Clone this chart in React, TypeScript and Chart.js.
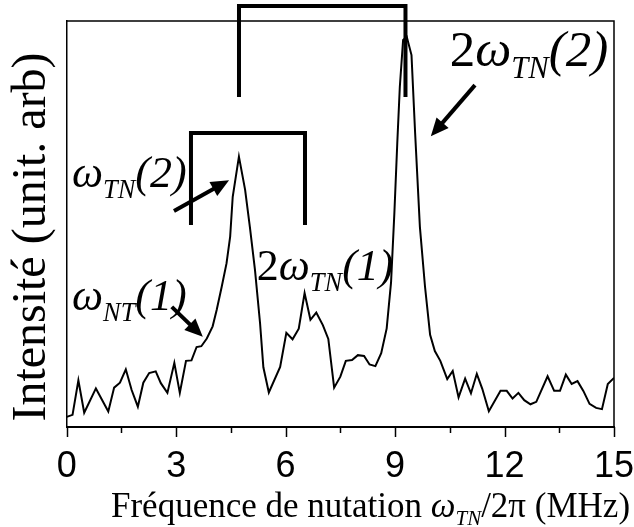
import React, { useEffect, useRef } from 'react';
import { Chart, registerables } from 'chart.js';

Chart.register(...registerables);

// Nutation frequency (MHz) and intensity (arb. units, 0-100 = axis height)
const freqMHz = [
  0.0, 0.16, 0.32, 0.48, 0.8, 1.14, 1.3, 1.46, 1.62, 1.78,
  1.95, 2.1, 2.26, 2.44, 2.58, 2.76, 2.95, 3.1, 3.27, 3.42,
  3.56, 3.69, 3.84, 4.0, 4.11, 4.25, 4.38, 4.48, 4.55, 4.72,
  4.89, 5.02, 5.16, 5.3, 5.39, 5.54, 5.85, 6.02, 6.19, 6.36,
  6.52, 6.68, 6.84, 7.02, 7.17, 7.33, 7.5, 7.65, 7.82, 7.98,
  8.15, 8.3, 8.46, 8.62, 8.77, 8.89, 8.98, 9.06, 9.13, 9.22,
  9.32, 9.45, 9.55, 9.68, 9.82, 9.96, 10.09, 10.24, 10.43, 10.58,
  10.74, 10.92, 11.08, 11.24, 11.39, 11.57, 11.89, 12.06, 12.22, 12.38,
  12.54, 12.71, 12.87, 13.18, 13.36, 13.52, 13.68, 13.84, 14.0, 14.16,
  14.33, 14.51, 14.67, 14.83, 15.0,
];
const intensity = [
  2.5, 3.0, 11.5, 3.5, 9.5, 3.8, 9.7, 10.9, 14.2, 9.1,
  5.0, 10.9, 13.3, 13.7, 10.8, 8.4, 15.8, 8.4, 16.3, 16.4,
  19.7, 19.9, 21.8, 24.8, 28.8, 34.6, 40.3, 46.9, 56.7, 66.6,
  58.4, 49.3, 38.7, 25.5, 14.7, 8.5, 14.8, 23.2, 21.6, 24.2,
  33.0, 26.4, 28.2, 25.1, 21.7, 9.7, 12.4, 16.3, 16.5, 17.7,
  17.5, 15.4, 15.0, 18.2, 24.3, 35.7, 52.6, 69.9, 83.8, 95.3,
  96.1, 91.6, 72.3, 49.3, 34.6, 22.7, 18.7, 16.3, 11.8, 13.8,
  7.3, 11.9, 8.3, 13.1, 9.4, 3.9, 8.9, 8.9, 7.0, 8.4,
  6.6, 5.6, 6.2, 12.5, 8.9, 8.9, 12.9, 10.6, 11.3, 8.9,
  5.7, 4.7, 4.4, 10.6, 12.1,
];
const xMajorTicks = [0, 3, 6, 9, 12, 15];
const xMinorTicks = [1.5, 4.5, 7.5, 10.5, 13.5];

const yTitle = 'Intensité (unit. arb)';
const xTitleParts = [
  { t: 'Fréquence de nutation ', i: false, sub: false },
  { t: 'ω', i: true, sub: false },
  { t: 'TN', i: true, sub: true },
  { t: '/2π (MHz)', i: false, sub: false },
];

// Annotations, in data coordinates
const brackets = [
  { x0: 3.406, x1: 6.531, yTop: 72.4, yEnd: 49.75 },
  { x0: 4.722, x1: 9.285, yTop: 103.7, yEnd: 81.3 },
];
const arrows = [
  { x0: 2.94, y0: 53.2, x1: 4.45, y1: 60.8 },
  { x0: 2.88, y0: 29.6, x1: 3.73, y1: 22.2 },
  { x0: 11.19, y0: 84.2, x1: 9.98, y1: 71.6 },
];
const peakLabels = [
  { x: 10.5, y: 89.0, size: 51, parts: [{ t: '2', i: false, sub: false }, { t: 'ω', i: true, sub: false }, { t: 'TN', i: true, sub: true }, { t: '(2)', i: true, sub: false }] },
  { x: 0.145, y: 59.1, size: 44, parts: [{ t: 'ω', i: true, sub: false }, { t: 'TN', i: true, sub: true }, { t: '(2)', i: true, sub: false }] },
  { x: 0.145, y: 28.8, size: 44, parts: [{ t: 'ω', i: true, sub: false }, { t: 'NT', i: true, sub: true }, { t: '(1)', i: true, sub: false }] },
  { x: 5.21, y: 36.2, size: 44, parts: [{ t: '2', i: false, sub: false }, { t: 'ω', i: true, sub: false }, { t: 'TN', i: true, sub: true }, { t: '(1)', i: true, sub: false }] },
];

const SERIF = '"Liberation Serif", "Times New Roman", serif';

function drawRich(ctx: CanvasRenderingContext2D, x: number, y: number, parts: any[], size: number, subSize: number, subDy: number) {
  let cx = x;
  ctx.textAlign = 'left';
  ctx.textBaseline = 'alphabetic';
  for (const p of parts) {
    const sz = p.sub ? subSize : size;
    ctx.font = `${p.i ? 'italic ' : ''}${sz}px ${SERIF}`;
    ctx.fillText(p.t, cx, y + (p.sub ? subDy : 0));
    cx += ctx.measureText(p.t).width;
  }
}

const decorPlugin = {
  id: 'decor',
  afterDraw(chart: any) {
    const { ctx, chartArea: ca } = chart;
    const xs = chart.scales.x;
    const ys = chart.scales.y;
    const X = (v: number) => xs.getPixelForValue(v);
    const Y = (v: number) => ys.getPixelForValue(v);
    ctx.save();
    ctx.strokeStyle = '#000';
    ctx.fillStyle = '#000';

    // top & right frame
    ctx.lineWidth = 1.5;
    ctx.beginPath();
    ctx.moveTo(ca.left, ca.top);
    ctx.lineTo(ca.right, ca.top);
    ctx.lineTo(ca.right, ca.bottom);
    ctx.stroke();

    // tick marks
    ctx.lineWidth = 1.5;
    for (const v of xMajorTicks) {
      const px = Math.round(X(v)) + 0.5;
      ctx.beginPath();
      ctx.moveTo(px, ca.bottom);
      ctx.lineTo(px, ca.bottom + 10);
      ctx.stroke();
    }
    for (const v of xMinorTicks) {
      const px = Math.round(X(v)) + 0.5;
      ctx.beginPath();
      ctx.moveTo(px, ca.bottom);
      ctx.lineTo(px, ca.bottom + 6);
      ctx.stroke();
    }

    // brackets
    ctx.lineWidth = 4;
    ctx.lineJoin = 'miter';
    ctx.lineCap = 'butt';
    for (const b of brackets) {
      ctx.beginPath();
      ctx.moveTo(X(b.x0), Y(b.yEnd));
      ctx.lineTo(X(b.x0), Y(b.yTop));
      ctx.lineTo(X(b.x1), Y(b.yTop));
      ctx.lineTo(X(b.x1), Y(b.yEnd));
      ctx.stroke();
    }

    // arrows
    for (const a of arrows) {
      const x0 = X(a.x0), y0 = Y(a.y0), x1 = X(a.x1), y1 = Y(a.y1);
      const dx = x1 - x0, dy = y1 - y0;
      const len = Math.hypot(dx, dy);
      const ux = dx / len, uy = dy / len;
      const head = 18, half = 8;
      ctx.lineWidth = 4;
      ctx.beginPath();
      ctx.moveTo(x0, y0);
      ctx.lineTo(x1 - ux * head * 0.8, y1 - uy * head * 0.8);
      ctx.stroke();
      ctx.beginPath();
      ctx.moveTo(x1, y1);
      ctx.lineTo(x1 - ux * head - uy * half, y1 - uy * head + ux * half);
      ctx.lineTo(x1 - ux * head + uy * half, y1 - uy * head - ux * half);
      ctx.closePath();
      ctx.fill();
    }

    // peak labels
    for (const l of peakLabels) {
      drawRich(ctx, X(l.x), Y(l.y), l.parts, l.size, l.size * 0.6, l.size * 0.25);
    }

    // y title
    ctx.save();
    ctx.translate(45, 237);
    ctx.rotate(-Math.PI / 2);
    ctx.font = `48px ${SERIF}`;
    ctx.textAlign = 'center';
    ctx.textBaseline = 'alphabetic';
    ctx.fillText(yTitle, 0, 0);
    ctx.restore();

    // x title
    drawRich(ctx, 111, 517, xTitleParts, 35, 21, 8);

    ctx.restore();
  },
};

export default function App() {
  const ref = useRef<HTMLCanvasElement>(null);
  useEffect(() => {
    document.body.style.margin = '0';
    const points = freqMHz.map((f, i) => ({ x: f, y: intensity[i] }));
    const chart = new Chart(ref.current as HTMLCanvasElement, {
      type: 'scatter',
      data: {
        datasets: [
          {
            data: points,
            showLine: true,
            borderColor: '#000',
            borderWidth: 2,
            pointRadius: 0,
            tension: 0,
            fill: false,
          } as any,
        ],
      },
      options: {
        animation: false,
        responsive: false,
        devicePixelRatio: 1,
        layout: { padding: { top: 21, right: 20, left: 0, bottom: 0 } },
        plugins: { legend: { display: false }, tooltip: { enabled: false } },
        scales: {
          x: {
            type: 'linear',
            min: 0,
            max: 15,
            afterBuildTicks: (s: any) => {
              s.ticks = xMajorTicks.map((v) => ({ value: v }));
            },
            afterFit: (s: any) => {
              s.height = 100;
              s.paddingRight = 0;
              s.paddingLeft = 0;
            },
            ticks: {
              color: '#000',
              padding: 10,
              maxRotation: 0,
              autoSkip: false,
              font: { family: '"Liberation Sans", Arial, sans-serif', size: 36 },
            },
            grid: { display: false },
            border: { display: true, color: '#000', width: 2 },
          },
          y: {
            min: 0,
            max: 100,
            afterFit: (s: any) => {
              s.width = 66.7;
            },
            ticks: { display: false },
            grid: { display: false },
            border: { display: true, color: '#000', width: 1.5 },
          },
        },
      } as any,
      plugins: [decorPlugin],
    });
    return () => chart.destroy();
  }, []);
  return (
    <div style={{ width: 634, height: 527 }}>
      <canvas ref={ref} width={634} height={527} style={{ display: 'block' }} />
    </div>
  );
}
